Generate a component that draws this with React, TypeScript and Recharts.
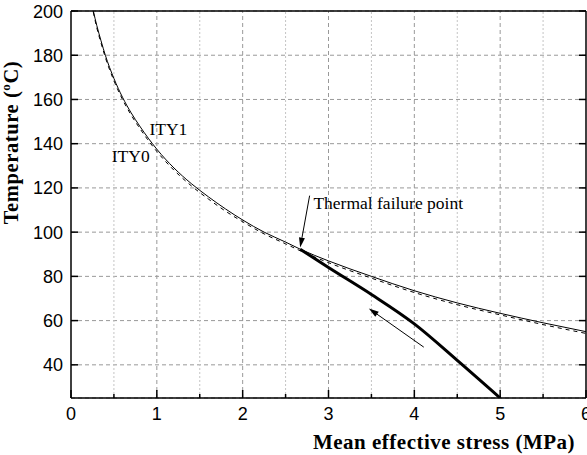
import React from 'react';
import { ComposedChart, Line, XAxis, YAxis, CartesianGrid, ReferenceLine, ReferenceDot } from 'recharts';

// stress (MPa) sampled along the ITY curves
const stressIty = [0.26, 0.3, 0.35, 0.4, 0.5, 0.6, 0.7, 0.8, 0.9, 1.0, 1.2, 1.4, 1.6, 1.8, 2.0, 2.25, 2.5, 2.67, 3.0, 3.5, 4.0, 4.5, 5.0, 5.5, 6.0];
const tempIty1 = [200, 193.5, 186.5, 180, 169.5, 161, 154, 148, 142.5, 137.5, 129, 122, 116, 110.5, 105.5, 100, 95.5, 92.3, 87, 80, 73.5, 68, 63.3, 59, 55];
const tempIty0 = [199.5, 192.5, 185.5, 179, 168.5, 160, 153, 147, 141.5, 136.5, 128, 121, 115, 109.5, 104.7, 99.2, 94.7, 91.6, 86.2, 79.2, 72.7, 67.2, 62.6, 58.2, 54.2];

// heating path after thermal failure
const failureStress = [2.67, 3.0, 3.5, 4.0, 4.5, 5.0];
const failureTemp = [92.3, 84, 71.8, 58.5, 42, 25];

const xTicks = [0, 0.5, 1, 1.5, 2, 2.5, 3, 3.5, 4, 4.5, 5, 5.5, 6];
const yTicks = [40, 60, 80, 100, 120, 140, 160, 180, 200];
const xMajorGrid = [1, 2, 3, 4, 5];
const xMinorGrid = [0.5, 1.5, 2.5, 3.5, 4.5, 5.5];

const ity1Data = stressIty.map((x, i) => ({ x, t: tempIty1[i] }));
const ity0Data = stressIty.map((x, i) => ({ x, t: tempIty0[i] }));
const failureData = failureStress.map((x, i) => ({ x, t: failureTemp[i] }));

const sans = 'Liberation Sans, Arial, sans-serif';
const serif = 'Liberation Serif, Times New Roman, serif';

function XTick(props: any) {
  const { x, y, payload } = props;
  const major = Number.isInteger(payload.value);
  return (
    <g>
      <line x1={x} y1={y} x2={x} y2={y - (major ? 8 : 4)} stroke="#000" strokeWidth={1.5} />
      {major && (
        <text x={x} y={y + 22} textAnchor="middle" fontSize={18} fontFamily={sans} fill="#000">
          {payload.value}
        </text>
      )}
    </g>
  );
}

function YTick(props: any) {
  const { x, y, payload } = props;
  return (
    <g>
      <line x1={x} y1={y} x2={x + 7} y2={y} stroke="#000" strokeWidth={1.5} />
      <text x={x - 8} y={y + 6.5} textAnchor="end" fontSize={18} fontFamily={sans} fill="#000">
        {payload.value}
      </text>
    </g>
  );
}

function RightTick(props: any) {
  const { x, y } = props;
  return <line x1={x} y1={y} x2={x - 7} y2={y} stroke="#000" strokeWidth={1.5} />;
}

function Arrow(props: any) {
  const { x1, y1, x2, y2 } = props;
  const a = Math.atan2(y2 - y1, x2 - x1);
  const bx = x2 - 10 * Math.cos(a);
  const by = y2 - 10 * Math.sin(a);
  const px = -Math.sin(a) * 3;
  const py = Math.cos(a) * 3;
  return (
    <g>
      <line x1={x1} y1={y1} x2={bx} y2={by} stroke="#000" strokeWidth={1} />
      <polygon points={`${x2},${y2} ${bx + px},${by + py} ${bx - px},${by - py}`} fill="#000" />
    </g>
  );
}

const note = (text: string) => (p: any) => (
  <text x={p.cx} y={p.cy} fontSize={17.5} fontFamily={serif} fill="#000">
    {text}
  </text>
);

function XTitle(props: any) {
  const vb = props.viewBox;
  return (
    <text x={vb.x + vb.width - 142} y={vb.y + 51} textAnchor="middle" fontSize={21} fontWeight="bold"
      letterSpacing={0.5} fontFamily={serif} fill="#000">
      Mean effective stress (MPa)
    </text>
  );
}

function YTitle(props: any) {
  const vb = props.viewBox;
  const cx = 17.5;
  const cy = vb.y + 131.5;
  return (
    <text x={cx} y={cy} transform={`rotate(-90, ${cx}, ${cy})`} textAnchor="middle" fontSize={20.5}
      fontWeight="bold" letterSpacing={0.6} fontFamily={serif} fill="#000">
      Temperature (<tspan fontSize={13} dy={-8}>o</tspan><tspan dy={8}>C)</tspan>
    </text>
  );
}

export default function App() {
  return (
    <div style={{ position: 'absolute', left: 0, top: 0, background: '#fff' }}>
      <ComposedChart width={587} height={455} margin={{ top: 11, right: 0, bottom: 0, left: 0 }}>
        <CartesianGrid vertical={false} stroke="#999" strokeDasharray="4 3" />
        {xMinorGrid.map((v) => (
          <ReferenceLine key={'m' + v} x={v} stroke="#c4c4c4" strokeDasharray="2 2" />
        ))}
        {xMajorGrid.map((v) => (
          <ReferenceLine key={'M' + v} x={v} stroke="#999" strokeDasharray="4 3" />
        ))}
        <XAxis dataKey="x" type="number" domain={[0, 6]} ticks={xTicks} interval={0} height={57}
          tickSize={0} tickMargin={0} tick={XTick} axisLine={{ stroke: '#000', strokeWidth: 1.5 }}
          allowDataOverflow label={XTitle} />
        <YAxis type="number" domain={[25, 200]} ticks={yTicks} interval={0} width={71}
          tickSize={0} tickMargin={0} tick={YTick} axisLine={{ stroke: '#000', strokeWidth: 1.5 }}
          allowDataOverflow label={YTitle} />
        <YAxis yAxisId="r" orientation="right" type="number" domain={[25, 200]} ticks={yTicks} interval={0}
          width={1} tickSize={0} tickMargin={0} tick={RightTick} axisLine={{ stroke: '#000', strokeWidth: 1.5 }}
          allowDataOverflow />
        <ReferenceLine y={200} stroke="#000" strokeWidth={1.5} />
        <Line data={ity0Data} dataKey="t" type="monotone" stroke="#000" strokeWidth={1} strokeDasharray="4 4"
          dot={false} activeDot={false} isAnimationActive={false} />
        <Line data={ity1Data} dataKey="t" type="monotone" stroke="#000" strokeWidth={1}
          dot={false} activeDot={false} isAnimationActive={false} />
        <Line data={failureData} dataKey="t" type="monotone" stroke="#000" strokeWidth={3}
          dot={false} activeDot={false} isAnimationActive={false} />
        <ReferenceLine segment={[{ x: 2.78, y: 116.5 }, { x: 2.67, y: 93 }]} shape={Arrow} />
        <ReferenceLine segment={[{ x: 4.11, y: 48 }, { x: 3.47, y: 65.5 }]} shape={Arrow} />
        <ReferenceDot x={2.824} y={110.3} shape={note('Thermal failure point')} />
        <ReferenceDot x={0.914} y={143.8} shape={note('ITY1')} />
        <ReferenceDot x={0.475} y={131.6} shape={note('ITY0')} />
      </ComposedChart>
    </div>
  );
}
